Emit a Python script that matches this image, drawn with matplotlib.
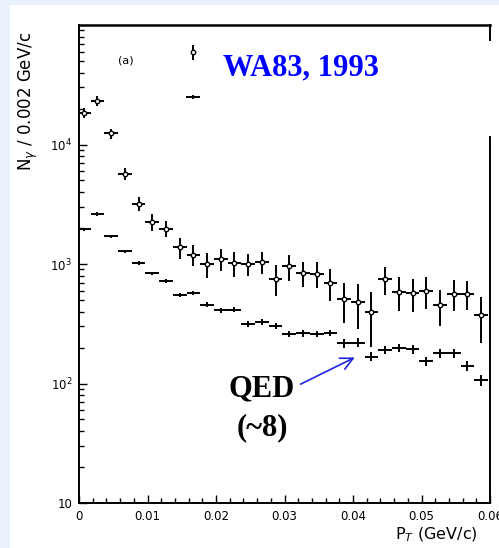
import numpy as np
import matplotlib
matplotlib.use('Agg')
import matplotlib.pyplot as plt
from matplotlib.ticker import FixedLocator, FixedFormatter, LogLocator, NullFormatter

# bin centres, 0.002 GeV/c bins
pt = np.arange(30) * 0.002 + 0.0007

# measured photons (open circles with error bars)
data = [18500, 23200, 12400, 5700, 3200, 2250, 1980, 1380, 1200, 1000,
        1106, 1020, 1000, 1045, 755, 962, 836, 830, 698, 510,
        485, 393, 745, 588, 570, 596, 455, 566, 566, 373]
data_err = [1800, 2200, 1200, 650, 430, 350, 300, 270, 230, 230,
            235, 235, 210, 220, 220, 235, 195, 200, 205, 190,
            200, 190, 190, 185, 177, 175, 150, 165, 155, 155]

# QED expectation (horizontal bars)
qed = [1950, 2620, 1700, 1280, 1020, 835, 722, 548, 576, 457,
       411, 414, 314, 329, 304, 259, 263, 259, 264, 218,
       220, 168, 191, 198, 193, 153, 179, 179, 141, 106]
qed_err = [60, 80, 55, 40, 35, 30, 28, 22, 24, 20,
           20, 20, 18, 18, 18, 16, 16, 16, 16, 18,
           18, 15, 16, 16, 16, 14, 15, 15, 13, 11]

# the off-scale bin near 0.0166
spike_pt = [0.0166]
spike_data = [59600]
spike_data_err = [9000]
spike_qed = [25100]
spike_qed_err = [1000]

xticks = [0, 0.01, 0.02, 0.03, 0.04, 0.05, 0.06]
xticklabels = ['0', '0.01', '0.02', '0.03', '0.04', '0.05', '0.06']
yticks = [10, 100, 1000, 10000]
yticklabels = ['10', '10$^2$', '10$^3$', '10$^4$']

fig = plt.figure(figsize=(4.99, 5.48), dpi=100, facecolor='#e9f2fb')
fig.patches.append(plt.Rectangle((10/499, 0), 1, 1 - 5/548, transform=fig.transFigure,
                                 facecolor='white', edgecolor='none', zorder=-10))
ax = fig.add_axes([79/499, 1 - 503/548, 411/499, 478/548])
ax.set_facecolor('none')

ax.errorbar(pt, data, yerr=data_err, xerr=0.001, fmt='o', ms=3.2, mfc='white', mec='black',
            mew=1.0, ecolor='black', elinewidth=1.4, capsize=0, color='black')
ax.errorbar(pt, qed, yerr=qed_err, xerr=0.001, fmt='none', ecolor='black',
            elinewidth=1.4, capsize=0)
ax.errorbar(spike_pt, spike_data, yerr=spike_data_err, fmt='o', ms=3.2, mfc='white',
            mec='black', mew=1.0, ecolor='black', elinewidth=1.4, capsize=0)
ax.errorbar(spike_pt, spike_qed, yerr=spike_qed_err, xerr=0.001, fmt='none', ecolor='black',
            elinewidth=1.4, capsize=0)

ax.set_yscale('log')
ax.set_xlim(0, 0.06)
ax.set_ylim(10, 1e5)

ax.xaxis.set_major_locator(FixedLocator(xticks))
ax.xaxis.set_major_formatter(FixedFormatter(xticklabels))
ax.xaxis.set_minor_locator(FixedLocator(np.arange(0, 0.0601, 0.002)))
ax.yaxis.set_major_locator(FixedLocator(yticks))
ax.yaxis.set_major_formatter(FixedFormatter(yticklabels))
ax.yaxis.set_minor_locator(LogLocator(base=10, subs=np.arange(2, 10)))
ax.yaxis.set_minor_formatter(NullFormatter())

ax.tick_params(which='both', direction='in', top=False, right=False, labelsize=8.5, width=1.0)
ax.tick_params(which='major', length=6, pad=5)
ax.tick_params(which='minor', length=3.5)

for s in ['left', 'bottom', 'top']:
    ax.spines[s].set_linewidth(1.4)
ax.spines['top'].set_linewidth(1.8)
ax.spines['right'].set_visible(False)
ax.plot([1, 1], [0, 0.766], transform=ax.transAxes, color='black', lw=1.4, clip_on=False)
ax.plot([1, 1], [0.969, 1], transform=ax.transAxes, color='black', lw=1.4, clip_on=False)

ax.set_ylabel('N$_\\gamma$ / 0.002 GeV/c', fontsize=12)
ax.yaxis.set_label_coords(-0.095, 0.84)
ax.set_xlabel('P$_T$ (GeV/c)', fontsize=11.5)
ax.xaxis.set_label_coords(0.87, -0.048)

ax.text(0.114, 0.925, '(a)', transform=ax.transAxes, fontsize=8, ha='center', va='center')
ax.text(0.350, 0.91, 'WA83, 1993', transform=ax.transAxes, fontsize=22, color='#0000ff',
        family='Liberation Serif', weight='bold', ha='left', va='center')
ax.text(0.445, 0.238, 'QED', transform=ax.transAxes, fontsize=22, color='black',
        family='Liberation Serif', weight='bold', ha='center', va='center')
ax.text(0.445, 0.158, '(~8)', transform=ax.transAxes, fontsize=22, color='black',
        family='Liberation Serif', weight='bold', ha='center', va='center')
ax.annotate('', xy=(0.677, 0.307), xytext=(0.533, 0.246), xycoords='axes fraction',
            textcoords='axes fraction',
            arrowprops=dict(arrowstyle='->', color='#2222dd', lw=1.2, mutation_scale=22))

fig.savefig('out.png', dpi=100, facecolor=fig.get_facecolor())
